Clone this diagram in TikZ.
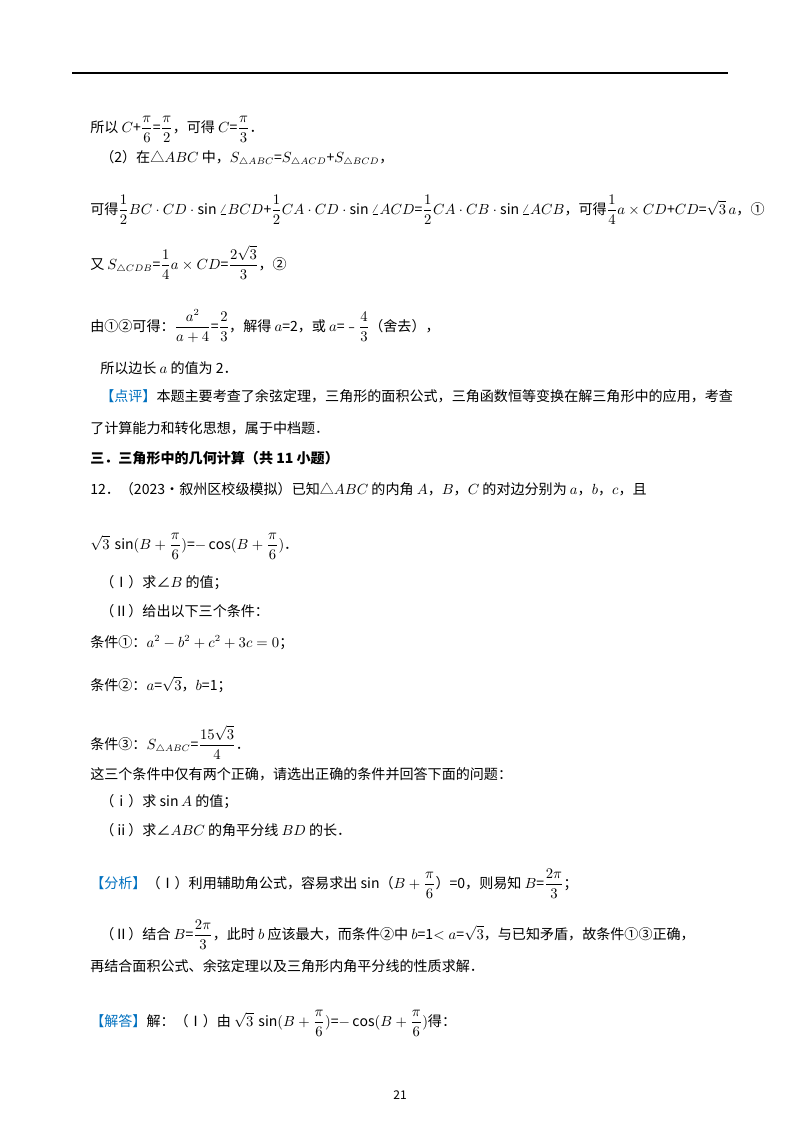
\documentclass[tikz,border=0pt]{standalone}
\usepackage{fontspec}
\usepackage{amsmath}
\setmainfont{Noto Sans CJK SC}
\definecolor{tagblue}{rgb}{0.0,0.44,0.75}
\tikzset{%
  txt/.style={anchor=base west,inner sep=0pt,font=\fontsize{10.5pt}{12pt}\selectfont},
  tag/.style={text=tagblue}
}
\newcommand{\blu}[1]{\textcolor{tagblue}{#1}}
\begin{document}
\begin{tikzpicture}[x=0.02625cm,y=-0.02625cm]
  \useasboundingbox (0,0) rectangle (800,1132);
  \draw[thick] (72,73) coordinate (r0) -- (728,73) coordinate (r1);
  % first part of the solution
  \node[txt] (l1) at (90,132) {所以 $C$+$\dfrac{\pi}{6}$=$\dfrac{\pi}{2}$，可得 $C$=$\dfrac{\pi}{3}$．};
  \node[txt] (l2) at (100,162) {（2）在△$ABC$ 中，$S_{\triangle ABC}$=$S_{\triangle ACD}$+$S_{\triangle BCD}$，};
  \node[txt] (l3) at (90,214) {可得$\dfrac{1}{2}BC\cdot CD\cdot\sin\angle BCD$+$\dfrac{1}{2}CA\cdot CD\cdot\sin\angle ACD$=$\dfrac{1}{2}CA\cdot CB\cdot\sin\angle ACB$，可得$\dfrac{1}{4}a\times CD$+$CD$=$\sqrt{3}\,a$，①};
  \node[txt] (l4) at (90,269) {又 $S_{\triangle CDB}$=$\dfrac{1}{4}a\times CD$=$\dfrac{2\sqrt{3}}{3}$，②};
  \node[txt] (l5) at (90,331) {由①②可得：$\dfrac{a^2}{a+4}$=$\dfrac{2}{3}$，解得 $a$=2，或 $a$=﹣$\dfrac{4}{3}$（舍去），};
  \node[txt] (l6) at (100,373) {所以边长 $a$ 的值为 2．};
  \node[txt] (l7) at (100,401) {\blu{【点评】}本题主要考查了余弦定理，三角形的面积公式，三角函数恒等变换在解三角形中的应用，考查};
  \node[txt] (l8) at (90,433) {了计算能力和转化思想，属于中档题．};
  % section
  \node[txt,font=\fontsize{10.5pt}{12pt}\selectfont\bfseries] (s1) at (90,463) {三．三角形中的几何计算（共 11 小题）};
  \node[txt] (q1) at (90,494) {12．（2023•叙州区校级模拟）已知△$ABC$ 的内角 $A$，$B$，$C$ 的对边分别为 $a$，$b$，$c$，且};
  \node[txt] (q2) at (90,549) {$\sqrt{3}\,\sin(B+\dfrac{\pi}{6})$=$-\cos(B+\dfrac{\pi}{6})$．};
  \node[txt] (q3) at (100,587) {（Ⅰ）求∠$B$ 的值；};
  \node[txt] (q4) at (100,616) {（Ⅱ）给出以下三个条件：};
  \node[txt] (q5) at (90,647) {条件①：$a^2-b^2+c^2+3c=0$；};
  \node[txt] (q6) at (90,690) {条件②：$a$=$\sqrt{3}$，$b$=1；};
  \node[txt] (q7) at (90,749) {条件③：$S_{\triangle ABC}$=$\dfrac{15\sqrt{3}}{4}$．};
  \node[txt] (q8) at (90,779) {这三个条件中仅有两个正确，请选出正确的条件并回答下面的问题：};
  \node[txt] (q9) at (100,806) {（ⅰ）求 $\sin A$ 的值；};
  \node[txt] (q10) at (100,835) {（ⅱ）求∠$ABC$ 的角平分线 $BD$ 的长．};
  % analysis
  \node[txt] (a1) at (90,888) {\blu{【分析】}（Ⅰ）利用辅助角公式，容易求出 $\sin$（$B+\dfrac{\pi}{6}$）=0，则易知 $B$=$\dfrac{2\pi}{3}$；};
  \node[txt] (a2) at (100,939) {（Ⅱ）结合 $B$=$\dfrac{2\pi}{3}$，此时 $b$ 应该最大，而条件②中 $b$=1$<a$=$\sqrt{3}$，与已知矛盾，故条件①③正确，};
  \node[txt] (a3) at (90,971) {再结合面积公式、余弦定理以及三角形内角平分线的性质求解．};
  \node[txt] (a4) at (90,1026) {\blu{【解答】}解：（Ⅰ）由 $\sqrt{3}\,\sin(B+\dfrac{\pi}{6})$=$-\cos(B+\dfrac{\pi}{6})$得：};
  \node[txt,anchor=base] (pg) at (400,1099) {\fontsize{9pt}{10pt}\selectfont 21};
\end{tikzpicture}
\end{document}
